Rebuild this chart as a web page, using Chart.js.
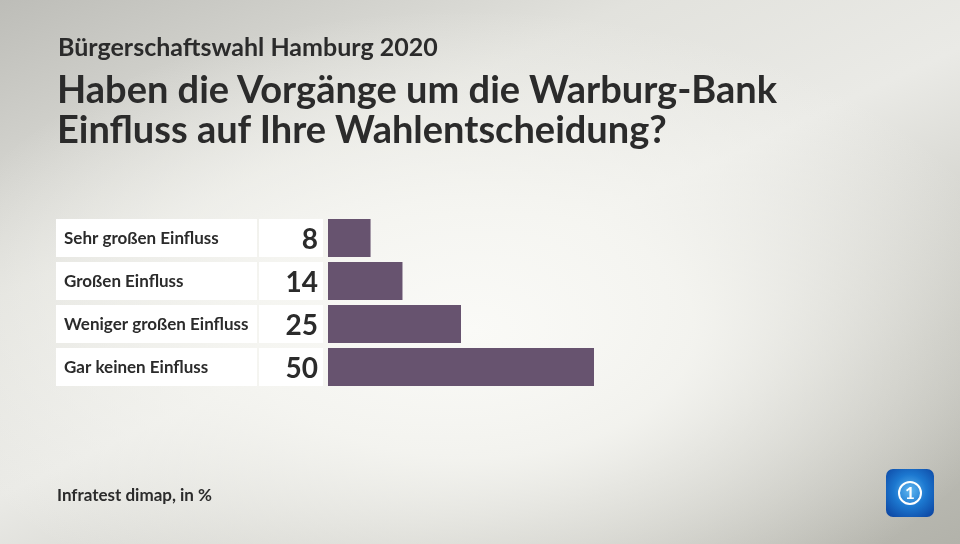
<!DOCTYPE html>
<html>
<head>
<meta charset="utf-8">
<script src="https://cdn.jsdelivr.net/npm/chart.js@4/dist/chart.umd.min.js"></script>
<style>
  html, body { margin: 0; padding: 0; }
  body {
    width: 960px; height: 544px; overflow: hidden; position: relative;
    font-family: Lato, "Open Sans", sans-serif; color: #2b2b2b;
    background:
      radial-gradient(ellipse 560px 320px at 470px 330px, rgba(250,250,247,1) 0%, rgba(246,246,242,0.9) 40%, rgba(240,240,235,0) 100%),
      linear-gradient(155deg, #bdbdb8 0%, #e2e2dd 30%, #eaeae6 50%, #c6c6bf 78%, #b2b2aa 100%);
  }
  #wrap { position: absolute; left: 0; top: 0; width: 960px; height: 544px; }
  .sub { position: absolute; left: 58px; top: 31px; font-size: 25px; font-weight: 700; }
  .title { position: absolute; left: 57px; top: 68px; font-size: 38px; font-weight: 700; line-height: 40px; }
  .src { position: absolute; left: 57px; top: 484px; font-size: 17px; font-weight: 700; }
  .logo {
    position: absolute; left: 886px; top: 469px; width: 48px; height: 48px; border-radius: 7px;
    background: radial-gradient(circle at 50% 45%, #5fb6f0 0%, #1c78d0 45%, #0b3f9c 100%);
  }
  .logo span {
    position: absolute; left: 12px; top: 12px; width: 20px; height: 20px; border: 2px solid #fff;
    border-radius: 50%; color: #fff; font: 700 17px Lato, sans-serif; text-align: center; line-height: 20px;
  }
</style>
</head>
<body>
<div id="wrap"><canvas id="chart" width="960" height="544"></canvas></div>
<div class="sub">Bürgerschaftswahl Hamburg 2020</div>
<div class="title">Haben die Vorgänge um die Warburg-Bank<br>Einfluss auf Ihre Wahlentscheidung?</div>
<div class="src">Infratest dimap, in %</div>
<div class="logo"><span>1</span></div>
<script>
var categories = ["Sehr großen Einfluss", "Großen Einfluss", "Weniger großen Einfluss", "Gar keinen Einfluss"];
var values = [8, 14, 25, 50];

var labelBoxes = {
  id: "labelBoxes",
  beforeDatasetsDraw: function (chart) {
    var ctx = chart.ctx;
    var y = chart.scales.y;
    ctx.save();
    categories.forEach(function (cat, i) {
      var cy = y.getPixelForValue(i);
      ctx.fillStyle = "#ffffff";
      ctx.fillRect(56, cy - 19, 201, 38);
      ctx.fillRect(259, cy - 19, 64, 38);
      ctx.fillStyle = "#2b2b2b";
      ctx.textBaseline = "middle";
      ctx.textAlign = "left";
      ctx.font = "700 17px Lato, sans-serif";
      ctx.fillText(cat, 64, cy + 1);
      ctx.textAlign = "right";
      ctx.font = "700 28px Lato, sans-serif";
      ctx.fillText(String(values[i]), 318, cy + 2);
    });
    ctx.restore();
  }
};

var ctx = document.getElementById("chart").getContext("2d");
new Chart(ctx, {
  type: "bar",
  data: {
    labels: categories,
    datasets: [{
      data: values,
      backgroundColor: "#67536f",
      barPercentage: 38 / 43,
      categoryPercentage: 1
    }]
  },
  options: {
    indexAxis: "y",
    responsive: false,
    animation: false,
    layout: { padding: { left: 328, right: 100, top: 216.5, bottom: 155.5 } },
    scales: {
      x: { display: false, min: 0, max: 100 },
      y: { display: false }
    },
    plugins: { legend: { display: false }, tooltip: { enabled: false } }
  },
  plugins: [labelBoxes]
});
</script>
</body>
</html>
